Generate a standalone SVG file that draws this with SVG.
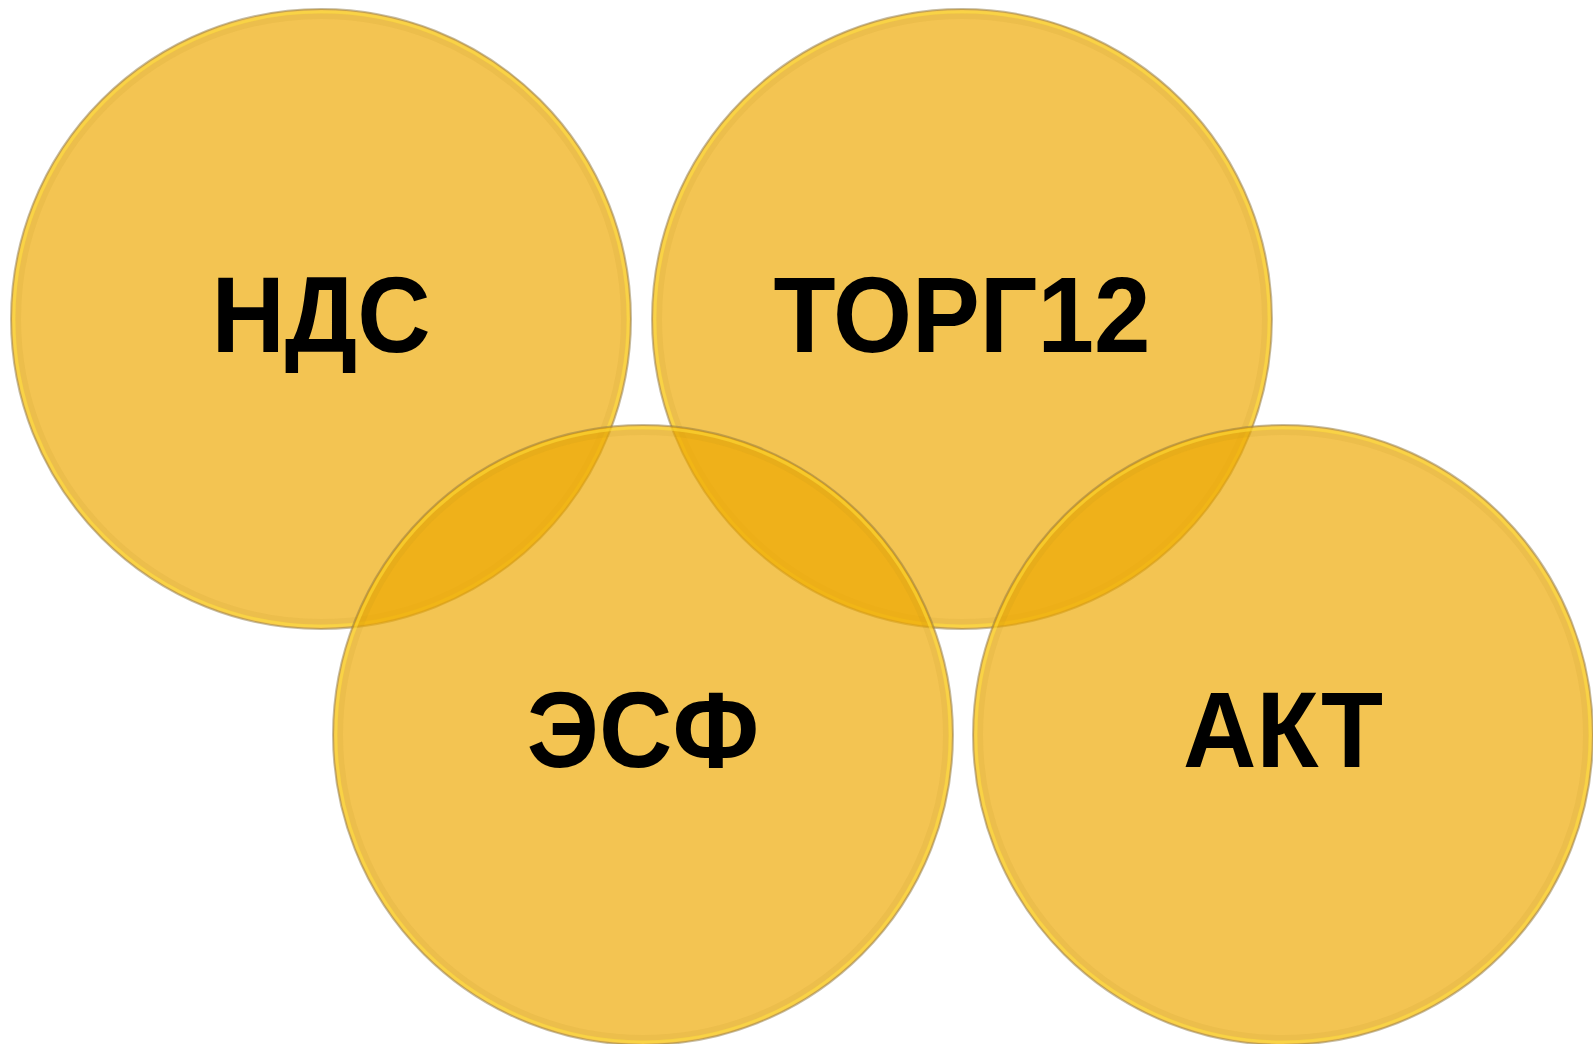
<svg xmlns="http://www.w3.org/2000/svg" width="1593" height="1044" viewBox="0 0 1593 1044">
<style>
.disc{fill:#EDA800;fill-opacity:0.68}
.rim{fill:none;stroke:#8f7a45;stroke-opacity:0.5;stroke-width:2}
.glow{fill:none;stroke:#ffe23a;stroke-opacity:0.5;stroke-width:3}
.shade{fill:none;stroke:#b08a20;stroke-opacity:0.1;stroke-width:6}
.lbl{font-family:"Liberation Sans",Arial,sans-serif;font-weight:bold;font-size:107px;fill:#000;text-anchor:middle}
</style>
<rect width="1593" height="1044" fill="#ffffff"/>
<g id="node-nds" transform="translate(321,319)">
<circle class="disc" r="310"/>
<circle class="shade" r="303"/>
<circle class="glow" r="307"/>
<circle class="rim" r="310"/>
<text class="lbl" transform="scale(0.95,1)" x="0" y="33">НДС</text>
</g>
<g id="node-torg12" transform="translate(962,319)">
<circle class="disc" r="310"/>
<circle class="shade" r="303"/>
<circle class="glow" r="307"/>
<circle class="rim" r="310"/>
<text class="lbl" transform="scale(0.95,1)" x="0" y="33">ТОРГ12</text>
</g>
<g id="node-esf" transform="translate(643,735)">
<circle class="disc" r="310"/>
<circle class="shade" r="303"/>
<circle class="glow" r="307"/>
<circle class="rim" r="310"/>
<text class="lbl" transform="scale(0.95,1)" x="0" y="32">ЭСФ</text>
</g>
<g id="node-akt" transform="translate(1283,735)">
<circle class="disc" r="310"/>
<circle class="shade" r="303"/>
<circle class="glow" r="307"/>
<circle class="rim" r="310"/>
<text class="lbl" transform="scale(0.95,1)" x="0" y="32">АКТ</text>
</g>
<g id="connectors"></g>
</svg>
